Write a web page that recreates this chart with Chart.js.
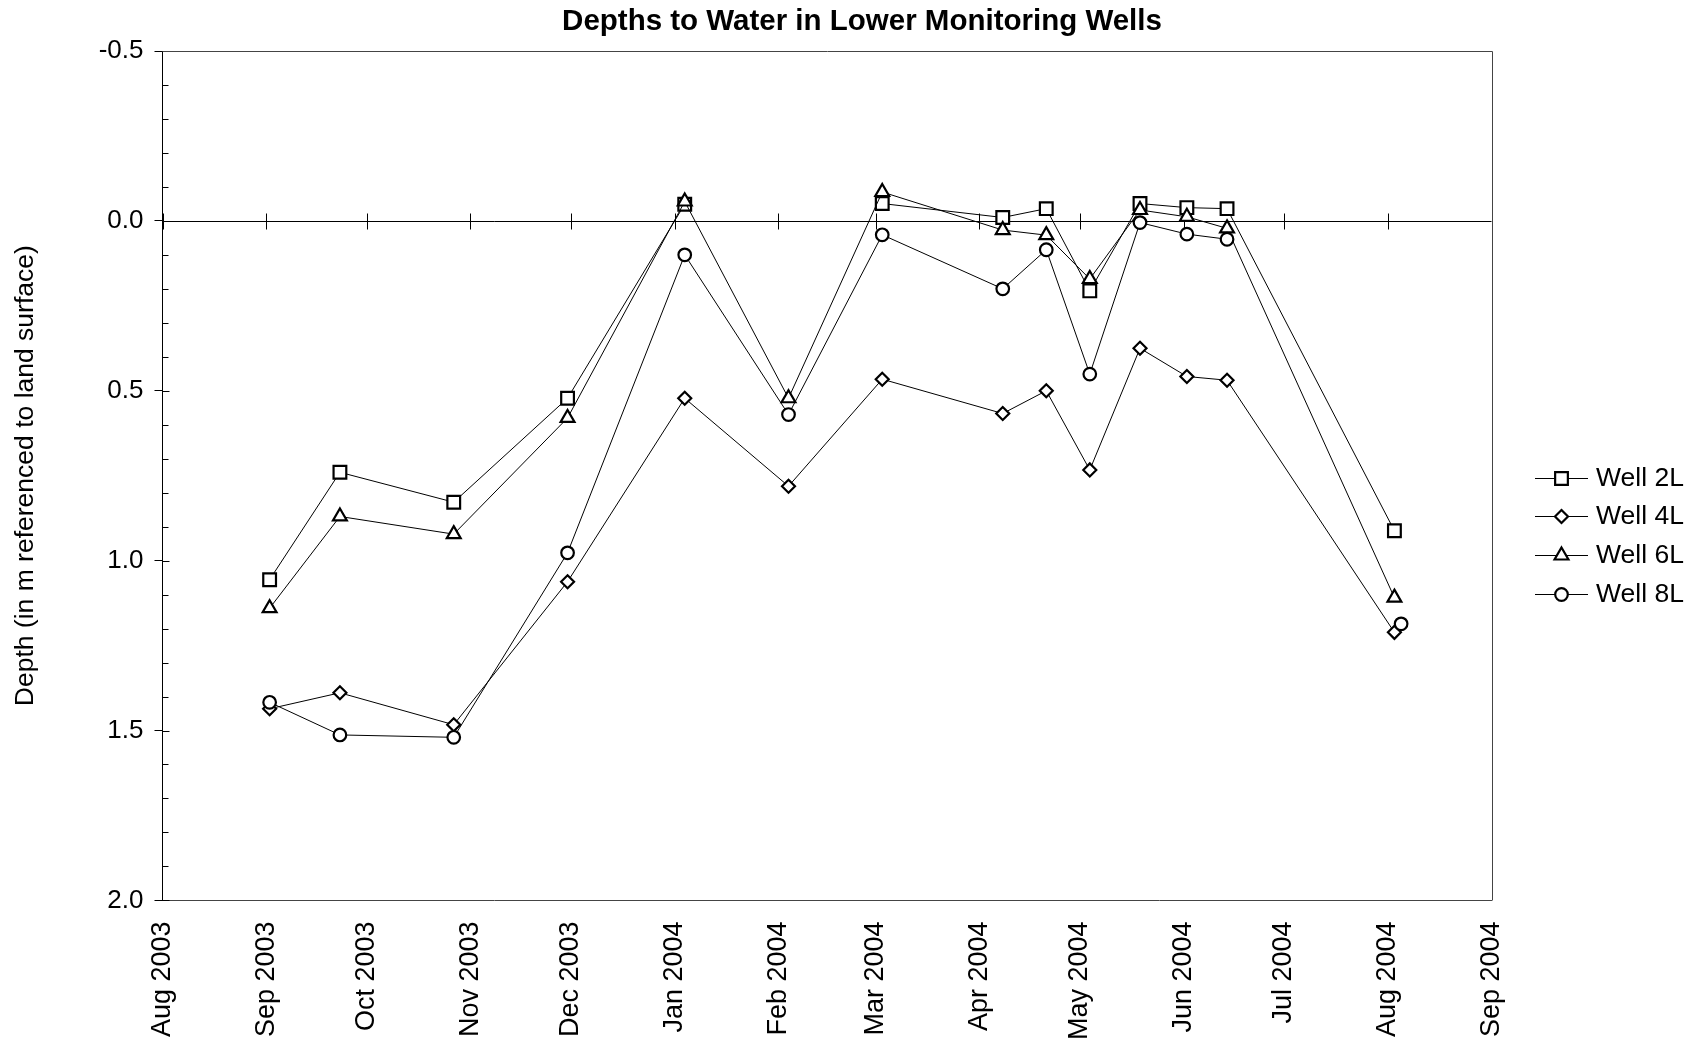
<!DOCTYPE html>
<html>
<head>
<meta charset="utf-8">
<script src="https://cdn.jsdelivr.net/npm/chart.js@4/dist/chart.umd.min.js"></script>
<style>
  html, body { margin: 0; padding: 0; background: #fff; }
  #wrap { width: 1701px; height: 1042px; }
</style>
</head>
<body>
<div id="wrap"><canvas id="wellsChart" width="1701" height="1042"></canvas></div>
<script>
// measurement dates (shared by all wells, null = no reading)
var sampleDates = ['2003-09-02', '2003-09-23', '2003-10-27', '2003-11-30', '2004-01-04',
                   '2004-02-04', '2004-03-03', '2004-04-08', '2004-04-21', '2004-05-04',
                   '2004-05-19', '2004-06-02', '2004-06-14', '2004-08-03', '2004-08-05'];

// depth to water, m below land surface
var well2L = [1.056, 0.740, 0.828, 0.522, -0.049, null, -0.051, -0.010, -0.036, 0.206, -0.051, -0.039, -0.036, 0.912, null];
var well4L = [1.436, 1.389, 1.483, 1.062, 0.522, 0.781, 0.466, 0.567, 0.500, 0.733, 0.375, 0.458, 0.469, 1.211, null];
var well6L = [1.140, 0.870, 0.922, 0.580, -0.057, 0.522, -0.085, 0.027, 0.042, 0.171, -0.032, -0.012, 0.022, 1.109, null];
var well8L = [1.417, 1.513, 1.520, 0.977, 0.100, 0.570, 0.041, 0.200, 0.085, 0.451, 0.005, 0.039, 0.054, null, 1.186];

// month ticks on the date axis
var monthStarts = ['2003-08-01', '2003-09-01', '2003-10-01', '2003-11-01', '2003-12-01', '2004-01-01', '2004-02-01',
                   '2004-03-01', '2004-04-01', '2004-05-01', '2004-06-01', '2004-07-01', '2004-08-01', '2004-09-01'];
var monthLabels = ['Aug 2003', 'Sep 2003', 'Oct 2003', 'Nov 2003', 'Dec 2003', 'Jan 2004', 'Feb 2004',
                   'Mar 2004', 'Apr 2004', 'May 2004', 'Jun 2004', 'Jul 2004', 'Aug 2004', 'Sep 2004'];

var FONT = "'Liberation Sans', Arial, sans-serif";
var T0 = Date.parse('2003-08-01');

function dayOf(s) {
    return (Date.parse(s) - T0) / 86400000;
}

function toPoints(values) {
    return sampleDates.map(function (d, i) {
        return { x: dayOf(d), y: values[i] };
    });
}

function isMajor(v) {
    return Math.abs(v * 2 - Math.round(v * 2)) < 1e-6;
}

var monthDays = monthStarts.map(dayOf);

function wellSet(label, values, style, radius, order) {
    return {
        label: label,
        data: toPoints(values),
        borderColor: '#000',
        borderWidth: 1,
        pointStyle: style,
        pointRadius: radius,
        pointHoverRadius: radius,
        pointBackgroundColor: '#fff',
        pointBorderColor: '#000',
        pointBorderWidth: 2.2,
        pointHoverBorderWidth: 2.2,
        spanGaps: false,
        tension: 0,
        fill: false,
        order: order
    };
}

// zero line with crossing month ticks, inner y ticks and the plot frame
var framePlugin = {
    id: 'frame',
    beforeDatasetsDraw: function (chart) {
        var ctx = chart.ctx, a = chart.chartArea;
        var xs = chart.scales.x, ys = chart.scales.y;
        ctx.save();
        ctx.strokeStyle = '#000';
        ctx.lineWidth = 1;
        var y0 = Math.round(ys.getPixelForValue(0)) + 0.5;
        ctx.beginPath();
        ctx.moveTo(a.left, y0);
        ctx.lineTo(a.right, y0);
        xs.ticks.forEach(function (t) {
            var px = Math.round(xs.getPixelForValue(t.value)) + 0.5;
            ctx.moveTo(px, y0 - 8);
            ctx.lineTo(px, y0 + 8);
        });
        ys.ticks.forEach(function (t) {
            var py = Math.round(ys.getPixelForValue(t.value)) + 0.5;
            ctx.moveTo(a.left, py);
            ctx.lineTo(a.left + (isMajor(t.value) ? 7 : 6), py);
        });
        ctx.stroke();

        ctx.strokeStyle = '#444';
        ctx.beginPath();
        ctx.moveTo(a.left, Math.round(a.top) + 0.5);
        ctx.lineTo(Math.round(a.right) + 0.5, Math.round(a.top) + 0.5);
        ctx.lineTo(Math.round(a.right) + 0.5, Math.round(a.bottom) + 0.5);
        ctx.stroke();
        ctx.restore();
    },
    afterDraw: function (chart) {
        // legend: short line with the marker, then the name
        var ctx = chart.ctx, a = chart.chartArea;
        var x0 = a.right + 43.5, yTop = a.top + 426.5, step = 38.7;
        ctx.save();
        chart.data.datasets.forEach(function (ds, i) {
            var y = Math.round(yTop + i * step) + 0.5;
            ctx.strokeStyle = '#000';
            ctx.lineWidth = 1;
            ctx.beginPath();
            ctx.moveTo(x0, y);
            ctx.lineTo(x0 + 53, y);
            ctx.stroke();
            ctx.fillStyle = '#fff';
            ctx.lineWidth = 2.2;
            Chart.helpers.drawPoint(ctx, {
                pointStyle: ds.pointStyle,
                radius: ds.pointRadius,
                borderWidth: 2.2,
                rotation: 0
            }, x0 + 26.5, y);
            ctx.fillStyle = '#000';
            ctx.font = '26.5px ' + FONT;
            ctx.textAlign = 'left';
            ctx.textBaseline = 'middle';
            ctx.fillText(ds.label, x0 + 61, y);
        });
        ctx.restore();
    }
};

var ctx = document.getElementById('wellsChart').getContext('2d');
var chart = new Chart(ctx, {
    type: 'line',
    data: {
        datasets: [
            wellSet('Well 2L', well2L, 'rect', 9, 4),
            wellSet('Well 4L', well4L, 'rectRot', 6.5, 3),
            wellSet('Well 6L', well6L, 'triangle', 8, 2),
            wellSet('Well 8L', well8L, 'circle', 6.3, 1)
        ]
    },
    options: {
        responsive: false,
        animation: false,
        events: [],
        layout: { padding: { left: 23, right: 0, top: 0, bottom: 0 } },
        plugins: {
            legend: { display: false },
            tooltip: { enabled: false },
            title: {
                display: true,
                text: 'Depths to Water in Lower Monitoring Wells',
                color: '#000',
                font: { family: FONT, size: 29.5, weight: 'bold' },
                padding: { top: 4, bottom: 11.6 }
            }
        },
        scales: {
            x: {
                type: 'linear',
                position: 'bottom',
                min: monthDays[0],
                max: monthDays[monthDays.length - 1],
                afterBuildTicks: function (scale) {
                    scale.ticks = monthDays.map(function (v) { return { value: v }; });
                },
                afterFit: function (scale) { scale.height = 141.6; },
                ticks: {
                    autoSkip: false,
                    minRotation: 90,
                    maxRotation: 90,
                    padding: 21,
                    color: '#000',
                    font: { family: FONT, size: 27 },
                    callback: function (v, i) { return monthLabels[i]; }
                },
                grid: { drawOnChartArea: false, drawTicks: false },
                border: { color: '#444', width: 1 }
            },
            y: {
                position: 'left',
                reverse: true,
                min: -0.5,
                max: 2.0,
                afterFit: function (scale) { scale.width = 139.5; },
                ticks: {
                    stepSize: 0.1,
                    autoSkip: false,
                    padding: 11,
                    color: '#000',
                    font: { family: FONT, size: 26 },
                    callback: function (v) { return isMajor(v) ? v.toFixed(1) : ''; }
                },
                grid: {
                    drawOnChartArea: false,
                    drawTicks: true,
                    tickLength: 8,
                    tickColor: function (c) { return c.tick && isMajor(c.tick.value) ? '#000' : 'rgba(0,0,0,0)'; }
                },
                border: { color: '#000', width: 1 },
                title: {
                    display: true,
                    text: 'Depth (in m referenced to land surface)',
                    color: '#000',
                    font: { family: FONT, size: 26.5, lineHeight: 1 },
                    padding: { top: -11, bottom: 0 }
                }
            },
            yRight: {
                position: 'right',
                display: true,
                min: 0,
                max: 1,
                afterFit: function (scale) { scale.width = 209.5; },
                ticks: { display: false },
                grid: { display: false },
                border: { display: false }
            }
        }
    },
    plugins: [framePlugin]
});
</script>
</body>
</html>
